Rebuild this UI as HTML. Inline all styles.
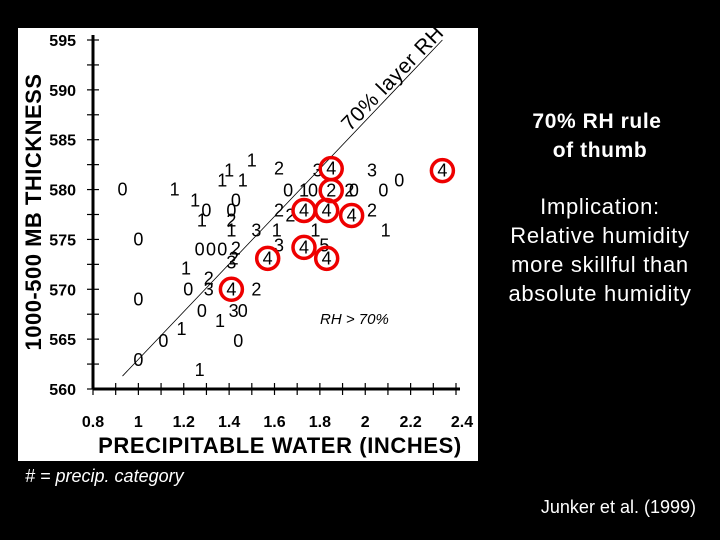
<!DOCTYPE html>
<html><head><meta charset="utf-8"><style>
body{margin:0;background:#000;width:720px;height:540px;overflow:hidden;font-family:"Liberation Sans",sans-serif}
</style></head><body>
<svg id="chart" width="720" height="540" style="position:absolute;left:0;top:0">
<rect x="18" y="28" width="460" height="433" fill="#fff"/>
<g id="axes"></g><g id="marks"></g>
<text x="280" y="453" font-size="22" font-weight="bold" text-anchor="middle" letter-spacing="0.6">PRECIPITABLE WATER (INCHES)</text>
<text transform="translate(41,212) rotate(-90)" font-size="22" font-weight="bold" text-anchor="middle" letter-spacing="0.5">1000-500 MB THICKNESS</text>
<text transform="translate(350,132) rotate(-46)" font-size="21" letter-spacing="0.6">70% layer RH</text>
<text x="320" y="324" font-size="15" font-style="italic">RH &gt; 70%</text>
<g font-size="21" font-weight="bold" fill="#fff" text-anchor="middle" letter-spacing="0.6">
<text x="597" y="128">70% RH rule</text>
<text x="600" y="157">of thumb</text>
</g>
<g font-size="22" fill="#fff" text-anchor="middle" letter-spacing="0.7">
<text x="600" y="214">Implication:</text>
<text x="600" y="243">Relative humidity</text>
<text x="600" y="272">more skillful than</text>
<text x="600" y="301">absolute humidity</text>
</g>
<text x="25" y="482" font-size="18" font-style="italic" fill="#fff"># = precip. category</text>
<text x="696" y="513" font-size="18" fill="#fff" text-anchor="end">Junker et al. (1999)</text>
</svg>
<script>
const xTicks=[0.8,1,1.2,1.4,1.6,1.8,2,2.2,2.4];
const yTicks=[560,565,570,575,580,585,590,595];
const ptX=[0.93,1.16,1.37,1.40,1.46,1.50,1.62,1.79,1.85,2.03,2.15,2.34,1.25,1.30,1.28,1.43,1.41,1.41,1.41,1.52,1.61,1.00,1.27,1.32,1.37,1.43,1.41,1.42,1.21,1.31,1.22,1.31,1.41,1.52,1.00,1.28,1.36,1.42,1.46,1.19,1.11,1.44,1.00,1.27,1.66,1.73,1.77,1.85,1.93,1.95,2.08,1.62,1.67,1.73,1.83,1.94,2.03,1.78,2.09,1.62,1.73,1.82,1.83,1.57];
const ptY=[580.0,580.0,580.9,581.9,580.9,582.9,582.1,581.9,582.1,581.9,580.9,581.9,578.9,577.9,576.9,578.9,577.9,576.9,575.9,575.9,575.9,575.0,574.0,574.0,574.0,574.1,572.7,573.1,572.1,571.1,570.0,570.0,570.0,570.0,569.0,567.8,566.8,567.8,567.8,566.0,564.8,564.8,562.9,561.9,579.9,579.9,579.9,579.9,579.9,579.9,579.9,577.9,577.4,577.9,577.9,577.4,577.9,575.9,575.9,574.4,574.2,574.4,573.1,573.1];
const ptLabel=["0","1","1","1","1","1","2","3","4","3","0","4","1","0","1","0","0","2","1","3","1","0","0","0","0","2","3","2","1","2","0","3","4","2","0","0","1","3","0","1","0","0","0","1","0","1","0","2","2","0","0","2","2","4","4","4","2","1","1","3","4","5","4","4"];
const ptCircled=[0,0,0,0,0,0,0,0,1,0,0,1,0,0,0,0,0,0,0,0,0,0,0,0,0,0,0,0,0,0,0,0,1,0,0,0,0,0,0,0,0,0,0,0,0,0,0,1,0,0,0,0,0,1,1,1,0,0,0,0,1,0,1,1];
const lineX=[0.93,2.34];
const lineY=[561.3,595];
const NS='http://www.w3.org/2000/svg';
const X0=93,X1=456,Y0=389,Y1=40;
function sx(v){return X0+(v-0.8)/(2.4-0.8)*(X1-X0);}
function sy(v){return Y0-(v-560)/(595-560)*(Y0-Y1);}
function mk(t,a,p){const e=document.createElementNS(NS,t);for(const k in a)e.setAttribute(k,a[k]);p.appendChild(e);return e;}
const ax=document.getElementById('axes'),mg=document.getElementById('marks');
const xl=mk('line',{x1:X0,y1:Y0,x2:X1+4,y2:Y0,stroke:'#000','stroke-width':3},ax);


const yl=mk('line',{x1:X0,y1:Y0,x2:X0,y2:Y1-5,stroke:'#000','stroke-width':3},ax);


for(let v=0.8;v<=2.401;v+=0.1){const x=sx(v);mk('line',{x1:x,y1:Y0-6,x2:x,y2:Y0+6,stroke:'#000','stroke-width':1.2},ax);}
for(let v=560;v<=595;v+=2.5){const y=sy(v);mk('line',{x1:X0-6,y1:y,x2:X0+6,y2:y,stroke:'#000','stroke-width':1.2},ax);}
xTicks.forEach(v=>{const t=mk('text',{x:sx(v)+(v>=2.4?6:0),y:427,'font-size':16,'font-weight':'bold','text-anchor':'middle'},ax);t.textContent=String(v);

});
yTicks.forEach(v=>{const t=mk('text',{x:76,y:sy(v)+6,'font-size':16,'font-weight':'bold','text-anchor':'end'},ax);t.textContent=String(v);

});
const dl=mk('line',{x1:sx(lineX[0]),y1:sy(lineY[0]),x2:sx(lineX[1]),y2:sy(lineY[1]),stroke:'#000','stroke-width':0.8},mg);


ptX.forEach((v,i)=>{const x=sx(v),y=sy(ptY[i]);
const t=mk('text',{x:x,y:y+6,'font-size':18,'text-anchor':'middle'},mg);t.textContent=ptLabel[i];


if(ptCircled[i]){const c=mk('circle',{cx:x,cy:y,r:11,fill:'none',stroke:'#e00','stroke-width':3.5},mg);

}});
</script>
</body></html>
